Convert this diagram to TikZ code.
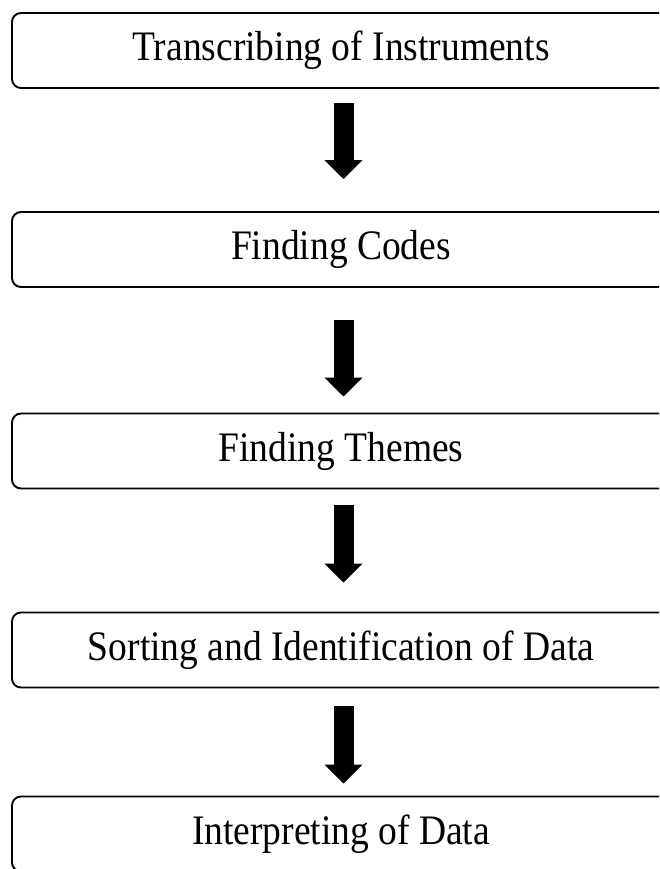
\documentclass[tikz,border=0pt]{standalone}
\usepackage{fontspec}
\setmainfont{Liberation Serif}
\usetikzlibrary{arrows.meta}
\newcommand\vtxt[1]{\scalebox{1}[1.12]{#1}}
\tikzset{
  stagebox/.style={draw=black, line width=1.9pt, rounded corners=9pt, fill=white,
    minimum width=658pt, minimum height=75pt, inner sep=0pt,
    font=\fontsize{37.5}{40}\selectfont},
  bigarrow/.style={line width=20pt, black, -{Triangle[width=37pt,length=19pt]}}
}
\begin{document}
\begin{tikzpicture}[x=1pt,y=-1pt]
\path[use as bounding box, clip] (0,0) rectangle (659,869);
\fill[white] (0,0) rectangle (659,869);
\node[stagebox] (b1) at (341,50.5) {\vtxt{Transcribing of Instruments}};
\node[stagebox] (b2) at (341,249.5) {\vtxt{Finding Codes}};
\node[stagebox] (b3) at (341,451) {\vtxt{Finding Themes}};
\node[stagebox] (b4) at (341,650) {\vtxt{Sorting and Identification of Data}};
\node[stagebox] (b5) at (341,834) {\vtxt{Interpreting of Data}};
\draw[bigarrow, shorten <=14pt, shorten >=32pt] ([xshift=2.5pt]b1.south) -- ([xshift=2.5pt]b2.north);
\draw[bigarrow, shorten <=32pt, shorten >=16pt] ([xshift=2.5pt]b2.south) -- ([xshift=2.5pt]b3.north);
\draw[bigarrow, shorten <=16pt, shorten >=29pt] ([xshift=2.5pt]b3.south) -- ([xshift=2.5pt]b4.north);
\draw[bigarrow, shorten <=18pt, shorten >=12pt] ([xshift=2.5pt]b4.south) -- ([xshift=2.5pt]b5.north);
\end{tikzpicture}
\end{document}
